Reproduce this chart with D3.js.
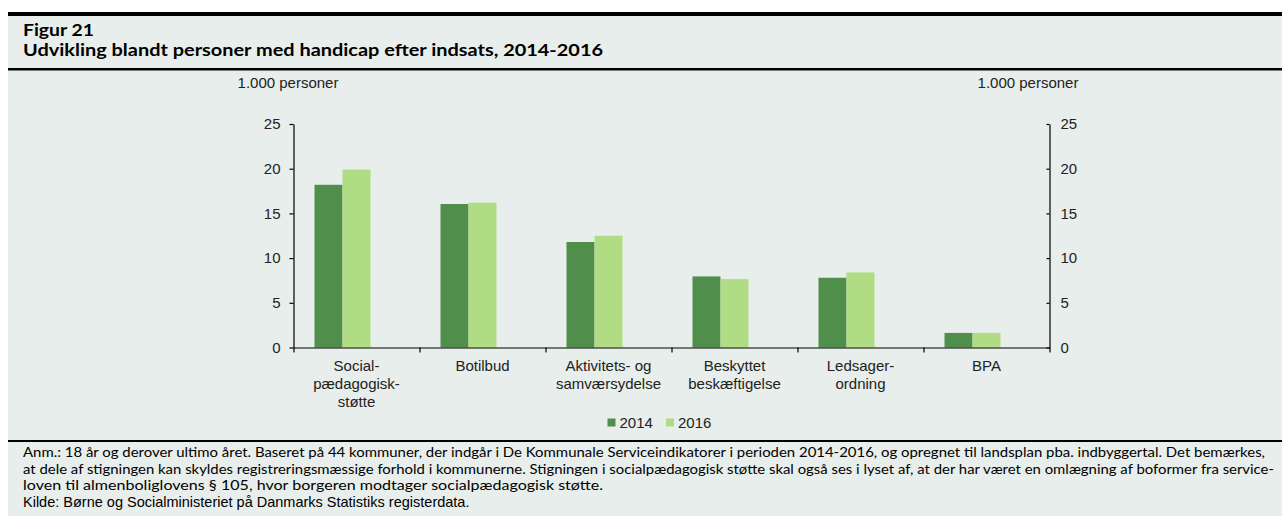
<!DOCTYPE html>
<html><head><meta charset="utf-8">
<script src="https://cdn.jsdelivr.net/npm/d3@7"></script>
<style>
html,body{margin:0;padding:0;background:#fff;}
svg{display:block;}
</style></head>
<body>
<svg id="chart" width="1282" height="516"></svg>
<script>
const categories = ["Social-\npædagogisk-\nstøtte", "Botilbud", "Aktivitets- og\nsamværsydelse", "Beskyttet\nbeskæftigelse", "Ledsager-\nordning", "BPA"];
const seriesNames = ["2014", "2016"];
const values2014 = [18.2, 16.05, 11.8, 7.95, 7.8, 1.63];
const values2016 = [19.9, 16.2, 12.5, 7.65, 8.4, 1.63];
const yTicks = [0, 5, 10, 15, 20, 25];
const unitLabel = "1.000 personer";
const titleLines = ["Figur 21", "Udvikling blandt personer med handicap efter indsats, 2014-2016"];
const noteLines = [
  "Anm.: 18 år og derover ultimo året. Baseret på 44 kommuner, der indgår i De Kommunale Serviceindikatorer i perioden 2014-2016, og opregnet til landsplan pba. indbyggertal. Det bemærkes,",
  "at dele af stigningen kan skyldes registreringsmæssige forhold i kommunerne. Stigningen i socialpædagogisk støtte skal også ses i lyset af, at der har været en omlægning af boformer fra service-",
  "loven til almenboliglovens § 105, hvor borgeren modtager socialpædagogisk støtte."
];
const sourceLine = "Kilde: Børne og Socialministeriet på Danmarks Statistiks registerdata.";

const colors = {"2014": "#508e4c", "2016": "#b0dc84"};
const bg = "#e8eeeb";
const axisFont = "'Liberation Sans', Arial, sans-serif";
const titleFont = "Lato, 'Open Sans', sans-serif";

const svg = d3.select("#chart");
svg.append("rect").attr("width", 1282).attr("height", 516).attr("fill", "#fff");
svg.append("rect").attr("x", 8).attr("y", 16).attr("width", 1274).attr("height", 500).attr("fill", bg);
svg.append("rect").attr("x", 8).attr("y", 12).attr("width", 1274).attr("height", 4).attr("fill", "#000");
svg.append("rect").attr("x", 8).attr("y", 68).attr("width", 1274).attr("height", 2.5).attr("fill", "#000");
svg.append("rect").attr("x", 8).attr("y", 440).attr("width", 1274).attr("height", 2).attr("fill", "#000");

// Titles
const titleW = [71, 580];
const titleY = [36, 56];
titleLines.forEach((t, i) => {
  svg.append("text").attr("x", 23).attr("y", titleY[i])
    .attr("font-family", titleFont).attr("font-weight", "bold").attr("font-size", 17)
    .attr("textLength", titleW[i]).attr("lengthAdjust", "spacingAndGlyphs")
    .attr("fill", "#000").text(t);
});

// Scales
const left = 293.5, right = 1049.5, y0 = 347.5, yTop = 124;
const x0 = d3.scaleBand().domain(categories).range([left, right]).paddingInner(1/3).paddingOuter(1/6);
const x1 = d3.scaleBand().domain(seriesNames).range([0, x0.bandwidth() * 2 / 3]);
const y = d3.scaleLinear().domain([0, 25]).range([y0, yTop]);

const data = categories.map((c, i) => ({cat: c, vals: [
  {key: "2014", v: values2014[i]}, {key: "2016", v: values2016[i]}]}));

const g = svg.append("g");
g.selectAll("g.grp").data(data).join("g").attr("class", "grp")
  .attr("transform", d => `translate(${x0(d.cat)},0)`)
  .selectAll("rect").data(d => d.vals).join("rect")
  .attr("x", d => x1(d.key)).attr("width", x1.bandwidth())
  .attr("y", d => y(d.v)).attr("height", d => y0 - y(d.v))
  .attr("fill", d => colors[d.key]);

function styleAxis(sel) {
  sel.selectAll("path,line").attr("stroke", "#000").attr("stroke-width", 1.2);
  sel.selectAll("text").attr("font-family", axisFont).attr("font-size", 15).attr("fill", "#222");
}

const yl = svg.append("g").attr("transform", `translate(${left},0)`)
  .call(d3.axisLeft(y).tickValues(yTicks).tickSizeInner(4).tickSizeOuter(0).tickPadding(9));
styleAxis(yl);
const yr = svg.append("g").attr("transform", `translate(${right},0)`)
  .call(d3.axisRight(y).tickValues(yTicks).tickSizeInner(-3).tickSizeOuter(0).tickPadding(11));
styleAxis(yr);

const xb = d3.scaleLinear().domain([0, categories.length]).range([left, right]);
const xa = svg.append("g").attr("transform", `translate(0,${y0})`)
  .call(d3.axisBottom(xb).tickValues(d3.range(categories.length + 1)).tickFormat("").tickSizeInner(5).tickSizeOuter(0));
styleAxis(xa);

// Category labels
const lab = svg.append("g");
categories.forEach(c => {
  const t = lab.append("text").attr("text-anchor", "middle")
    .attr("font-family", axisFont).attr("font-size", 15).attr("fill", "#222");
  c.split("\n").forEach((ln, j) => {
    t.append("tspan").attr("x", x0(c) + x0.bandwidth() / 2).attr("y", 371 + j * 17.8).text(ln);
  });
});

// Unit labels
[288, 1028].forEach(x => {
  svg.append("text").attr("x", x).attr("y", 88).attr("text-anchor", "middle")
    .attr("font-family", axisFont).attr("font-size", 15).attr("fill", "#222").text(unitLabel);
});

// Legend
const legX = [607.5, 666];
seriesNames.forEach((s, i) => {
  svg.append("rect").attr("x", legX[i]).attr("y", 418.5).attr("width", 8).attr("height", 8).attr("fill", colors[s]);
  svg.append("text").attr("x", legX[i] + 12).attr("y", 427.5)
    .attr("font-family", axisFont).attr("font-size", 15).attr("fill", "#222").text(s);
});

// Notes
const noteW = [1242, 1251, 580];
noteLines.forEach((t, i) => {
  svg.append("text").attr("x", 23).attr("y", 457 + i * 16.6)
    .attr("font-family", titleFont).attr("font-size", 13)
    .attr("textLength", noteW[i]).attr("lengthAdjust", "spacingAndGlyphs")
    .attr("fill", "#000").text(t);
});
svg.append("text").attr("x", 23).attr("y", 457 + 3 * 16.6)
  .attr("font-family", axisFont).attr("font-size", 14.5).attr("fill", "#000").text(sourceLine);
</script>
</body></html>
